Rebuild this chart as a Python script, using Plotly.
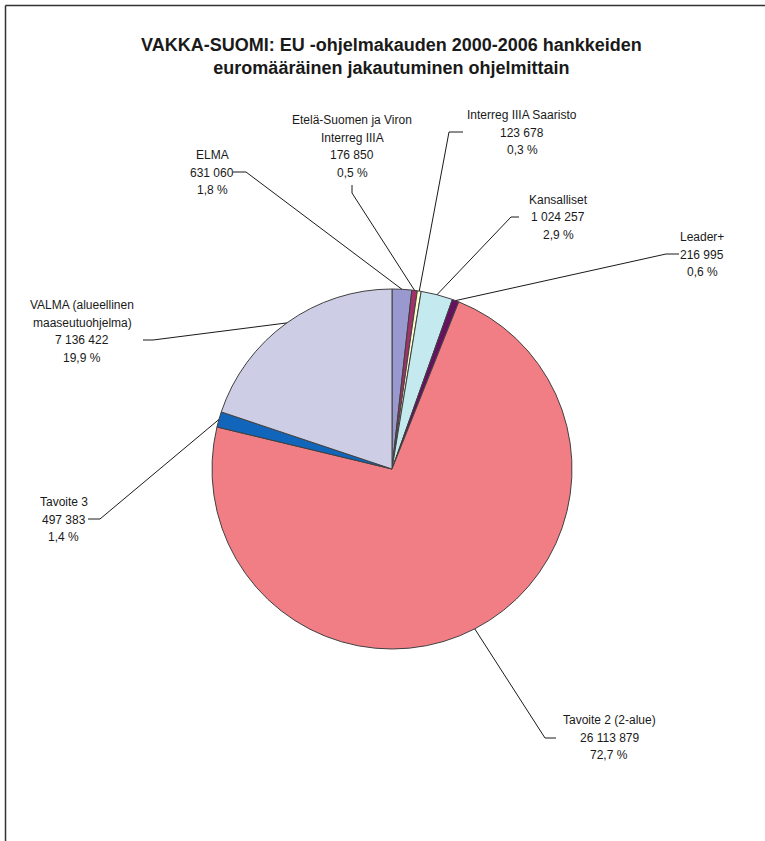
import math
import plotly.graph_objects as go

W, H = 765, 841

# ---- data ----
programs = ["ELMA", "Etelä-Suomen ja Viron Interreg IIIA", "Interreg IIIA Saaristo",
            "Kansalliset", "Leader+", "Tavoite 2 (2-alue)", "Tavoite 3",
            "VALMA (alueellinen maaseutuohjelma)"]
label_lines = [["ELMA"], ["Etelä-Suomen ja Viron", "Interreg IIIA"], ["Interreg IIIA Saaristo"],
               ["Kansalliset"], ["Leader+"], ["Tavoite 2 (2-alue)"], ["Tavoite 3"],
               ["VALMA (alueellinen", "maaseutuohjelma)"]]
euros = [631060, 176850, 123678, 1024257, 216995, 26113879, 497383, 7136422]
colors = ["#9999CF", "#A3306A", "#FFFFCC", "#C4E9EF", "#66115F", "#F27E85", "#1166BB", "#CDCDE6"]

# ---- layout positions (pixels) ----
cx, cy, R = 392, 469, 180
# label centre x, first line centre y, stub start, stub end
label_pos = [
    (212, 155, (233, 172), (246, 172)),
    (352, 120, (352, 185), (352, 193)),
    (522, 115, (463, 132), (449, 132)),
    (558, 200, (519, 217), (511, 217)),
    (702, 237, (679, 254), (666, 254)),
    (609, 720, (556, 738), (545, 738)),
    (64, 502, (88, 519), (100, 519)),
    (82, 305, (143, 340), (153, 340)),
]
LINE_H = 17.5

def px(x):
    return x / W

def py(y):
    return 1 - y / H

def fmt_num(v):
    return f"{v:,}".replace(",", " ")

total = sum(euros)

fig = go.Figure(go.Pie(
    labels=programs, values=euros, sort=False, direction="clockwise", rotation=0,
    marker=dict(colors=colors, line=dict(color="#404040", width=1)),
    textinfo="none", hoverinfo="label+value+percent", showlegend=False,
    domain=dict(x=[px(cx - R), px(cx + R)], y=[py(cy + R), py(cy - R)]),
))

annotations = []
shapes = []
cum = 0
for i, v in enumerate(euros):
    frac = v / total
    mid = (cum + frac / 2) * 2 * math.pi
    cum += frac
    ex = cx + R * math.sin(mid)
    ey = cy - R * math.cos(mid)
    lx, ly, s0, s1 = label_pos[i]
    pct = f"{frac*100:.1f}".replace(".", ",") + " %"
    lines = label_lines[i] + [fmt_num(v), pct]
    for k, t in enumerate(lines):
        annotations.append(dict(x=px(lx), y=py(ly + k * LINE_H), xref="paper", yref="paper",
                                text=t, showarrow=False, xanchor="center", yanchor="middle",
                                font=dict(family="Liberation Sans, Arial", size=12, color="#1a1a1a")))
    path = f"M {px(s0[0])} {py(s0[1])} L {px(s1[0])} {py(s1[1])} L {px(ex)} {py(ey)}"
    shapes.append(dict(type="path", path=path, xref="paper", yref="paper",
                       line=dict(color="#1a1a1a", width=1)))

# frame lines
shapes.append(dict(type="line", xref="paper", yref="paper", x0=px(5.5), y0=py(5.5), x1=px(W + 5), y1=py(5.5),
                   line=dict(color="#333333", width=1.5)))
shapes.append(dict(type="line", xref="paper", yref="paper", x0=px(5.5), y0=py(5.5), x1=px(5.5), y1=py(H + 5),
                   line=dict(color="#333333", width=1.5)))

annotations.append(dict(x=px(392), y=py(57), xref="paper", yref="paper", showarrow=False,
                        xanchor="center", yanchor="middle",
                        text="<b>VAKKA-SUOMI: EU -ohjelmakauden 2000-2006 hankkeiden<br>euromääräinen jakautuminen ohjelmittain</b>",
                        font=dict(family="Liberation Sans, Arial", size=18, color="#1a1a1a")))

fig.update_layout(width=W, height=H, margin=dict(l=0, r=0, t=0, b=0),
                  paper_bgcolor="white", plot_bgcolor="white",
                  annotations=annotations, shapes=shapes)

fig.write_html("out.html", config={"displayModeBar": False},
               post_script="document.body.style.margin='0';document.body.style.overflow='hidden';")
